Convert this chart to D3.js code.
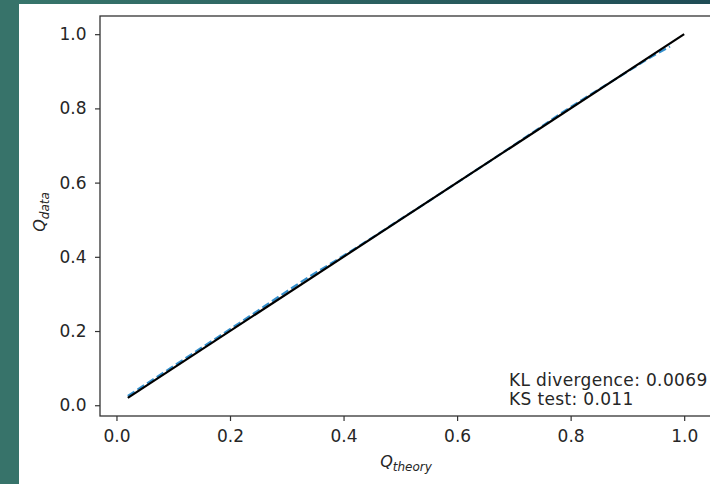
<!DOCTYPE html>
<html>
<head>
<meta charset="utf-8">
<script src="https://cdn.jsdelivr.net/npm/d3@7"></script>
<style>
  html, body { margin: 0; padding: 0; background: #36736a; }
  svg { display: block; }
</style>
</head>
<body>
<svg id="chart" width="710" height="484"></svg>
<script>
// Quantile-quantile comparison: empirical quantiles vs. theoretical quantiles
const qTheory = [0.02, 0.06, 0.10, 0.14, 0.18, 0.22, 0.26, 0.30, 0.34, 0.38, 0.42, 0.46, 0.50,
                 0.54, 0.58, 0.62, 0.66, 0.70, 0.74, 0.78, 0.82, 0.86, 0.90, 0.94, 0.975];
const qData   = [0.025, 0.065, 0.105, 0.145, 0.185, 0.225, 0.266, 0.307, 0.347, 0.384, 0.422, 0.461, 0.501,
                 0.540, 0.580, 0.620, 0.660, 0.701, 0.742, 0.784, 0.823, 0.861, 0.899, 0.937, 0.967];
// Reference diagonal y = x
const diagX = [0.02, 1.0];
const diagY = [0.02, 1.0];
const xTicks = [0.0, 0.2, 0.4, 0.6, 0.8, 1.0];
const yTicks = [0.0, 0.2, 0.4, 0.6, 0.8, 1.0];
const statsText = ["KL divergence: 0.0069", "KS test: 0.011"];

const svg = d3.select("#chart");
const W = 710, H = 484;

// Backdrop frame and white figure area
const defs = svg.append("defs");
const grad = defs.append("linearGradient").attr("id", "bg").attr("x1", 0).attr("x2", 1).attr("y1", 0).attr("y2", 0);
grad.append("stop").attr("offset", 0).attr("stop-color", "#37756b");
grad.append("stop").attr("offset", 1).attr("stop-color", "#1f4b55");
svg.append("rect").attr("width", W).attr("height", H).attr("fill", "#37736a");
svg.append("rect").attr("x", 19).attr("y", 0).attr("width", W).attr("height", 4).attr("fill", "url(#bg)");
svg.append("rect").attr("x", 19).attr("y", 4).attr("width", W - 19).attr("height", H - 4).attr("fill", "#ffffff");

// Axes geometry (data range padded by 5% each side)
const axLeft = 100, axRight = 712, axTop = 16, axBottom = 416;
const lo = 0.02 - 0.049, hi = 1.0 + 0.049;
const x = d3.scaleLinear().domain([lo, hi]).range([axLeft, axRight]);
const y = d3.scaleLinear().domain([lo, hi]).range([axBottom, axTop]);

const font = "'DejaVu Sans', sans-serif";
const textColor = "#262626";
const fs = 17;

const plot = svg.append("g");
plot.append("clipPath").attr("id", "clip")
  .append("rect").attr("x", axLeft).attr("y", axTop).attr("width", axRight - axLeft).attr("height", axBottom - axTop);

const line = d3.line().x(d => x(d[0])).y(d => y(d[1]));

// Empirical quantiles, dashed
plot.append("path")
  .datum(d3.zip(qTheory, qData))
  .attr("clip-path", "url(#clip)")
  .attr("d", line)
  .attr("fill", "none")
  .attr("stroke", "#3590cd")
  .attr("stroke-width", 2.2)
  .attr("stroke-dasharray", "8,3.5");

// Diagonal reference
plot.append("path")
  .datum(d3.zip(diagX, diagY))
  .attr("clip-path", "url(#clip)")
  .attr("d", line)
  .attr("fill", "none")
  .attr("stroke", "#000000")
  .attr("stroke-width", 2.2);

// Axes
const xAxis = d3.axisBottom(x).tickValues(xTicks).tickFormat(d3.format(".1f")).tickSize(5).tickPadding(9);
const yAxis = d3.axisLeft(y).tickValues(yTicks).tickFormat(d3.format(".1f")).tickSize(5).tickPadding(8.5);

const gx = svg.append("g").attr("transform", `translate(0,${axBottom})`).call(xAxis);
const gy = svg.append("g").attr("transform", `translate(${axLeft},0)`).call(yAxis);
[gx, gy].forEach(g => {
  g.select(".domain").remove();
  g.selectAll("line").attr("stroke", "#333").attr("stroke-width", 1.2);
  g.selectAll("text").attr("font-family", font).attr("font-size", fs).attr("fill", textColor);
});

// Spines
svg.append("rect")
  .attr("x", axLeft).attr("y", axTop).attr("width", axRight - axLeft).attr("height", axBottom - axTop)
  .attr("fill", "none").attr("stroke", "#333").attr("stroke-width", 1.3);

// Axis labels
const xl = svg.append("text")
  .attr("x", 406).attr("y", 467)
  .attr("text-anchor", "middle")
  .attr("font-family", font).attr("fill", textColor);
xl.append("tspan").attr("font-style", "italic").attr("font-size", 16).text("Q");
xl.append("tspan").attr("font-style", "italic").attr("font-size", 12).attr("dy", 4).text("theory");

const yl = svg.append("text")
  .attr("transform", `translate(45,212) rotate(-90)`)
  .attr("text-anchor", "middle")
  .attr("font-family", font).attr("fill", textColor);
yl.append("tspan").attr("font-style", "italic").attr("font-size", 16).text("Q");
yl.append("tspan").attr("font-style", "italic").attr("font-size", 12).attr("dy", 4).text("data");

// Goodness-of-fit annotation
svg.selectAll(".stat")
  .data(statsText)
  .enter().append("text")
  .attr("class", "stat")
  .attr("x", 509)
  .attr("y", (d, i) => 386 + i * 19)
  .attr("font-family", font).attr("font-size", fs).attr("letter-spacing", 0.35).attr("fill", textColor)
  .text(d => d);
</script>
</body>
</html>
